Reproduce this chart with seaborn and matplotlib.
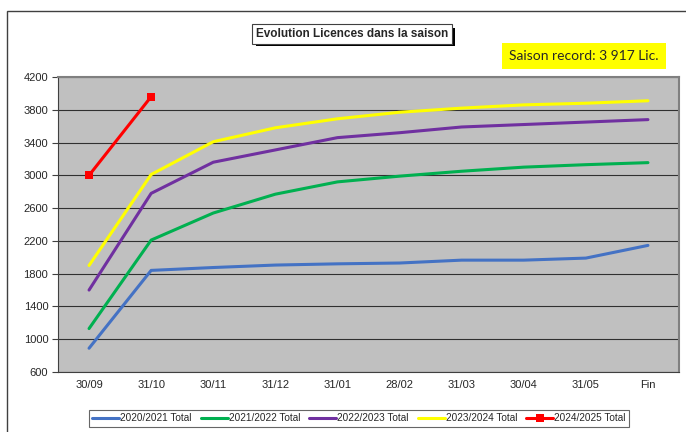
import matplotlib
matplotlib.use("Agg")
import matplotlib.pyplot as plt
import seaborn as sns
import pandas as pd
from matplotlib.patches import Rectangle

categories = ["30/09", "31/10", "30/11", "31/12", "31/01", "28/02", "31/03", "30/04", "31/05", "Fin"]
s2020 = [890, 1840, 1875, 1905, 1920, 1930, 1965, 1965, 1990, 2145]
s2021 = [1130, 2210, 2540, 2770, 2920, 2990, 3050, 3100, 3130, 3155]
s2022 = [1600, 2780, 3160, 3310, 3460, 3520, 3590, 3620, 3650, 3680]
s2023 = [1900, 3010, 3410, 3580, 3690, 3770, 3820, 3860, 3880, 3910]
s2024 = [3000, 3960]
series_names = ["2020/2021 Total", "2021/2022 Total", "2022/2023 Total", "2023/2024 Total", "2024/2025 Total"]
colors = ["#4472C4", "#00B050", "#7030A0", "#FFFF00", "#FF0000"]
yticks = [600, 1000, 1400, 1800, 2200, 2600, 3000, 3400, 3800, 4200]
title = "Evolution Licences dans la saison"
record_text = "Saison record: 3 917 Lic."

rows = []
for name, vals in zip(series_names, [s2020, s2021, s2022, s2023, s2024]):
    for i, v in enumerate(vals):
        rows.append({"cat": categories[i], "pos": i, "value": v, "series": name})
df = pd.DataFrame(rows)

sns.set_theme(style="white")
plt.rcParams["font.family"] = ["Liberation Sans", "DejaVu Sans"]

fig = plt.figure(figsize=(6.86, 4.32), dpi=100)
fig.patch.set_facecolor("white")
ax = fig.add_axes([58/686, 1-372/432, (679-58)/686, (372-77)/432])
ax.set_facecolor("#C0C0C0")

for name, col in zip(series_names, colors):
    sub = df[df["series"] == name]
    marker = "s" if name == "2024/2025 Total" else None
    sns.lineplot(data=sub, x="pos", y="value", ax=ax, color=col, lw=2.2,
                 marker=marker, markersize=6, markeredgewidth=0, label=name,
                 sort=False)

ax.set_xlim(-0.5, len(categories) - 0.5)
ax.set_ylim(600, 4200)
ax.set_yticks(yticks)
ax.set_yticklabels([str(t) for t in yticks], fontsize=8)
ax.set_xticks(range(len(categories)))
ax.set_xticklabels(categories, fontsize=8)
ax.set_xticks([i - 0.5 for i in range(len(categories) + 1)], minor=True)
ax.tick_params(axis="x", which="major", length=0, pad=6)
ax.tick_params(axis="x", which="minor", length=4, width=0.8, color="#404040", direction="out")
ax.tick_params(axis="y", which="major", length=4, width=0.8, color="#404040", direction="out", pad=3, left=True)
ax.set_xlabel("")
ax.set_ylabel("")
ax.yaxis.grid(True, color="#303030", lw=0.8)
ax.xaxis.grid(False)
ax.set_axisbelow(True)
for side in ["top", "right"]:
    ax.spines[side].set_color("#808080")
    ax.spines[side].set_linewidth(1.5)
for side in ["left", "bottom"]:
    ax.spines[side].set_color("#404040")
    ax.spines[side].set_linewidth(0.8)

leg = ax.legend(loc="center", bbox_to_anchor=((359 - 58) / (679 - 58), (372 - 418) / (372 - 77)),
                ncol=5, fontsize=7.2, frameon=True, fancybox=False, handlelength=2.7,
                handletextpad=0.1, columnspacing=0.9, borderpad=0.35)
leg.get_frame().set_edgecolor("#404040")
leg.get_frame().set_linewidth(0.8)

# outer chart border
fig.patches.append(Rectangle((7/686, -0.02), 1.0, 1 - 11/432 + 0.02, transform=fig.transFigure,
                             fill=False, edgecolor="#404040", lw=1))

# title with shadow box
fig.text(352/686, 1 - 34/432, title, ha="center", va="center", fontsize=8.5, fontweight="bold",
         bbox=dict(boxstyle="square,pad=0.3", facecolor="white", edgecolor="#404040", lw=0.8),
         zorder=5)
fig.patches.append(Rectangle((256/686, 1 - 46/432), (452-253)/686, 18/432, transform=fig.transFigure,
                             facecolor="black", edgecolor="none", zorder=1))

fig.text(584/686, 1 - 56/432, record_text, ha="center", va="center", fontsize=10,
         family=["Lato", "DejaVu Sans"],
         bbox=dict(boxstyle="square,pad=0.5", facecolor="#FFFF00", edgecolor="none"))

fig.savefig("out.png", dpi=100)
